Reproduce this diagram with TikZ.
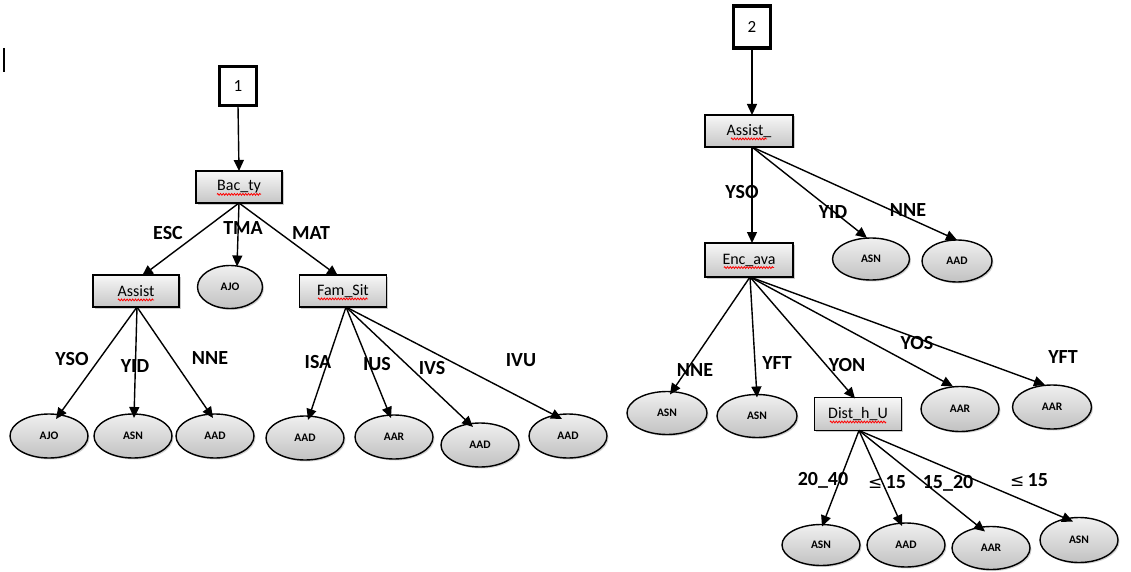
\documentclass[tikz,border=0pt]{standalone}
\usepackage{fontspec}
\setmainfont{Carlito}
\newfontfamily\symfont{DejaVu Sans}
\usetikzlibrary{arrows.meta,shapes.geometric,shadows,decorations.pathmorphing}

% red wavy spell-check underline below the text of a box node (#2 = half width of the text)
\newcommand\spell[2]{%
  \draw[wavy] ([xshift=-#2pt,yshift=-3.5pt]#1.base) -- ([xshift=#2pt,yshift=-3.5pt]#1.base);}

\tikzset{
  every node/.style={inner sep=0pt, outer sep=0pt},
  numbox/.style={draw, line width=3.6pt, fill=white, minimum width=37pt, minimum height=39pt, font=\fontsize{17}{19}\selectfont},
  attr/.style={draw, line width=1.4pt, top color=gray!6, bottom color=gray!45, minimum width=86pt, minimum height=32pt,
    drop shadow={shadow xshift=1.5pt, shadow yshift=-1.5pt, opacity=0.4},
    font=\fontsize{16}{18}\selectfont},
  leaf/.style={draw, line width=1.4pt, ellipse, top color=gray!12, bottom color=gray!48, minimum width=78pt, minimum height=44pt,
    drop shadow={shadow xshift=1.5pt, shadow yshift=-1.5pt, opacity=0.35},
    font=\bfseries\fontsize{11.5}{13}\selectfont},
  edgelbl/.style={font=\bfseries\fontsize{20}{22}\selectfont},
  conn/.style={line width=1.4pt, -{Triangle[length=11pt,width=10pt]}},
  wavy/.style={draw=red, line width=0.8pt, decorate, decoration={zigzag, amplitude=0.9pt, segment length=2.8pt}},
}

\begin{document}
\begin{tikzpicture}[x=1pt, y=-1pt]
\useasboundingbox[fill=white] (0,0) rectangle (1131,572);

% text cursor at the top left
\draw[line width=1.2pt] (4,48) -- (4,72);

% ---------------- tree 1 ----------------
\node[numbox] (n1) at (238,86) {1};
\node[attr] (bac) at (239,187) {Bac\_ty};
\node[attr] (assistL) at (136,291) {Assist};
\node[leaf, minimum width=65pt, minimum height=43pt] (ajoM) at (230,287) {AJO};
\node[attr, minimum width=87pt] (fam) at (343,291) {Fam\_Sit};
\spell{bac}{22}
\spell{assistL}{18}
\spell{fam}{25}

\node[leaf] (l1) at (49,436) {AJO};
\node[leaf] (l2) at (133,436) {ASN};
\node[leaf] (l3) at (215,436) {AAD};
\node[leaf] (l4) at (305,438) {AAD};
\node[leaf] (l5) at (394,437) {AAR};
\node[leaf] (l6) at (480,445) {AAD};
\node[leaf] (l7) at (568,436) {AAD};

\draw[conn] (n1.south) -- (bac.north);
\draw[conn] (bac.south) -- ([xshift=6pt,yshift=-1pt]assistL.north);
\draw[conn] (bac.south) -- ([xshift=7pt,yshift=-1pt]ajoM.north);
\draw[conn] (bac.south) -- ([xshift=-5pt,yshift=-1pt]fam.north);

\draw[conn] ([xshift=1pt]assistL.south) -- ([xshift=7pt,yshift=-5pt]l1.north);
\draw[conn] ([xshift=1pt]assistL.south) -- ([xshift=1pt,yshift=-4pt]l2.north);
\draw[conn] ([xshift=1pt]assistL.south) -- ([xshift=-2pt,yshift=-4pt]l3.north);
\draw[conn] ([xshift=3pt]fam.south) -- ([xshift=3pt,yshift=-4pt]l4.north);
\draw[conn] ([xshift=3pt]fam.south) -- ([xshift=-3pt,yshift=-3pt]l5.north);
\draw[conn] ([xshift=3pt]fam.south) -- ([xshift=-7pt,yshift=-4pt]l6.north);
\draw[conn] ([xshift=3pt]fam.south) -- ([xshift=-6pt,yshift=-5pt]l7.north);

\node[edgelbl] (tESC) at (168,233) {ESC};
\node[edgelbl] (tTMA) at (243,228) {TMA};
\node[edgelbl] (tMAT) at (311,233) {MAT};
\node[edgelbl] (tYSO) at (72,359) {YSO};
\node[edgelbl] (tYID) at (135,366) {YID};
\node[edgelbl] (tNNE) at (210,358) {NNE};
\node[edgelbl] (tISA) at (318,362) {ISA};
\node[edgelbl] (tIUS) at (377,364) {IUS};
\node[edgelbl] (tIVS) at (432,368) {IVS};
\node[edgelbl] (tIVU) at (521,360) {IVU};

% ---------------- tree 2 ----------------
\node[numbox, minimum height=42pt] (n2) at (752,27) {2};
\node[attr, minimum width=88pt] (assistR) at (749,131) {Assist\_};
\node[attr, minimum width=88pt, minimum height=34pt] (enc) at (749,260) {Enc\_ava};
\spell{assistR}{18}
\spell{enc}{25}
\node[leaf, minimum width=77pt, minimum height=42pt] (aA) at (871,259) {ASN};
\node[leaf, minimum width=70pt, minimum height=42pt] (aB) at (957,261) {AAD};

\node[leaf, minimum width=80pt, minimum height=43pt] (r1) at (667,413) {ASN};
\node[leaf, minimum width=80pt, minimum height=43pt] (r2) at (757,416) {ASN};
\node[attr, minimum width=87pt, minimum height=33pt] (dist) at (858,414) {Dist\_h\_U};
\spell{dist}{28}
\node[leaf, minimum width=78pt, minimum height=45pt] (r3) at (960,409) {AAR};
\node[leaf, minimum width=79pt, minimum height=44pt] (r4) at (1052,407) {AAR};

\node[leaf, minimum height=41pt] (d1) at (821,545) {ASN};
\node[leaf] (d2) at (906,545) {AAD};
\node[leaf, minimum height=43pt] (d3) at (991,548) {AAR};
\node[leaf, minimum height=45pt] (d4) at (1079,540) {ASN};

\draw[conn] (n2.south) -- ([xshift=3pt]assistR.north);
\draw[conn] ([xshift=3pt]assistR.south) -- ([xshift=3pt]enc.north);
\draw[conn] ([xshift=3pt]assistR.south) -- ([xshift=-4pt]aA.north);
\draw[conn] ([xshift=3pt]assistR.south) -- (aB.north);

\draw[conn] ([xshift=1pt]enc.south) -- ([xshift=3pt,yshift=-3pt]r1.north);
\draw[conn] ([xshift=1pt]enc.south) -- ([yshift=-3pt]r2.north);
\draw[conn] ([xshift=1pt]enc.south) -- ([xshift=-3pt,yshift=-1pt]dist.north);
\draw[conn] ([xshift=1pt]enc.south) -- ([xshift=-7pt]r3.north);
\draw[conn] ([xshift=1pt]enc.south) -- ([xshift=-7pt]r4.north);

\draw[conn] ([xshift=1pt]dist.south) -- ([xshift=1pt,yshift=-2pt]d1.north);
\draw[conn] ([xshift=1pt]dist.south) -- ([xshift=-4pt,yshift=-3pt]d2.north);
\draw[conn] ([xshift=1pt]dist.south) -- ([xshift=-6pt,yshift=-5pt]d3.north);
\draw[conn] ([xshift=1pt]dist.south) -- ([xshift=-6pt,yshift=-4pt]d4.north);

\node[edgelbl] (uYSO) at (742,192) {YSO};
\node[edgelbl] (uYID) at (833,212) {YID};
\node[edgelbl] (uNNE) at (908,210) {NNE};
\node[edgelbl] (uNNE2) at (695,370) {NNE};
\node[edgelbl] (uYFT) at (777,363) {YFT};
\node[edgelbl] (uYON) at (847,365) {YON};
\node[edgelbl] (uYOS) at (917,343) {YOS};
\node[edgelbl] (uYFT2) at (1063,357) {YFT};
\node[edgelbl] (u2040) at (823,480) {20\_40};
\node[edgelbl] (ule1) at (887,482) {{\symfont\mdseries\fontsize{17}{19}\selectfont ≤}\,15};
\node[edgelbl] (u1520) at (948,483) {15\_20};
\node[edgelbl] (ule2) at (1029,480) {{\symfont\mdseries\fontsize{17}{19}\selectfont ≤}\,15};
\end{tikzpicture}
\end{document}
